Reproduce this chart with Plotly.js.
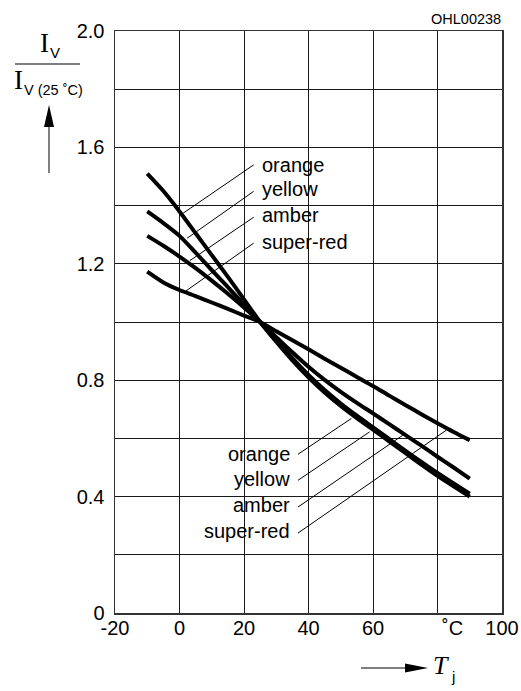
<!DOCTYPE html>
<html>
<head>
<meta charset="utf-8">
<script src="https://cdn.plot.ly/plotly-3.0.1.min.js"></script>
<style>html,body{margin:0;padding:0;background:#fff;}#chart{width:521px;height:691px;}</style>
</head>
<body>
<div id="chart"></div>
<script>
// Junction temperature (°C)
const temps = [-10, -5, 0, 5, 10, 15, 20, 25, 30, 35, 40, 45, 50, 55, 60, 65, 70, 75, 80, 85, 90];
// Relative luminous intensity Iv / Iv(25 °C)
const orange   = [1.51, 1.45, 1.38, 1.305, 1.23, 1.155, 1.078, 1.0, 0.932, 0.868, 0.81, 0.758, 0.712, 0.670, 0.630, 0.590, 0.550, 0.510, 0.471, 0.435, 0.40];
const yellow   = [1.38, 1.34, 1.296, 1.238, 1.178, 1.12, 1.06, 1.0, 0.938, 0.876, 0.818, 0.766, 0.720, 0.678, 0.638, 0.598, 0.558, 0.519, 0.481, 0.445, 0.41];
const amber    = [1.296, 1.262, 1.225, 1.185, 1.142, 1.097, 1.05, 1.0, 0.948, 0.896, 0.846, 0.801, 0.760, 0.722, 0.686, 0.649, 0.612, 0.575, 0.537, 0.50, 0.462];
const superRed = [1.173, 1.136, 1.110, 1.089, 1.067, 1.045, 1.022, 1.0, 0.968, 0.937, 0.906, 0.874, 0.843, 0.811, 0.78, 0.747, 0.715, 0.683, 0.652, 0.622, 0.594];

const seriesNames = ['orange', 'yellow', 'amber', 'super-red'];
const seriesValues = [orange, yellow, amber, superRed];

const xTickVals = [-20, 0, 20, 40, 60, 80, 100];
const xTickText = ['-20', '0', '20', '40', '60', '', '100'];
const yTickVals = [0, 0.2, 0.4, 0.6, 0.8, 1.0, 1.2, 1.4, 1.6, 1.8, 2.0];
const yTickText = ['0', '', '0.4', '', '0.8', '', '1.2', '', '1.6', '', '2.0'];

// label leader lines: [label x, label y, curve x, curve y] in data units
const topLeaders = [[23.0, 1.540, 1.15, 1.374], [23.0, 1.449, 2.38, 1.288], [23.0, 1.360, 3.22, 1.211], [23.0, 1.271, 1.67, 1.104]];
const bottomLeaders = [[36.75, 0.5456, 53.3, 0.6685], [36.75, 0.456, 58.95, 0.6224], [36.75, 0.3642, 69.26, 0.611], [36.75, 0.2747, 82.7, 0.628]];

const SANS = '"Liberation Sans", Arial, Helvetica, sans-serif';
const SERIF = '"Liberation Serif", "Times New Roman", serif';

// plot area in page pixels
const L = 115, R = 502, T0 = 31, B = 613;
const px = x => (x - L) / (R - L);
const py = y => (B - y) / (B - T0);

const traces = seriesValues.map((v, i) => ({
  x: temps, y: v, name: seriesNames[i], type: 'scatter', mode: 'lines',
  line: {color: '#000', width: 4, shape: 'spline', smoothing: 0.8},
  hoverinfo: 'skip'
}));

const shapes = [];
topLeaders.concat(bottomLeaders).forEach(l => {
  shapes.push({type: 'line', xref: 'x', yref: 'y', x0: l[0], y0: l[1], x1: l[2], y1: l[3], line: {color: '#000', width: 1}});
});
// fraction bar of y title
shapes.push({type: 'line', xref: 'paper', yref: 'paper', x0: px(15), x1: px(80), y0: py(64), y1: py(64), line: {color: '#000', width: 1}});
// y arrow
shapes.push({type: 'line', xref: 'paper', yref: 'paper', x0: px(49), x1: px(49), y0: py(173), y1: py(120), line: {color: '#000', width: 1}});
shapes.push({type: 'path', xref: 'paper', yref: 'paper',
  path: `M ${px(49)} ${py(105)} L ${px(44)} ${py(127)} L ${px(54)} ${py(127)} Z`, fillcolor: '#000', line: {color: '#000', width: 0}});
// x arrow
shapes.push({type: 'line', xref: 'paper', yref: 'paper', x0: px(361), x1: px(410), y0: py(668), y1: py(668), line: {color: '#000', width: 1}});
shapes.push({type: 'path', xref: 'paper', yref: 'paper',
  path: `M ${px(428)} ${py(668)} L ${px(405)} ${py(663.5)} L ${px(405)} ${py(672.5)} Z`, fillcolor: '#000', line: {color: '#000', width: 0}});

const annotations = [];
const topBase = [172.7, 197.3, 223.3, 250];
const botBase = [461.7, 487.3, 513.3, 539];
seriesNames.forEach((n, i) => {
  annotations.push({xref: 'paper', yref: 'paper', x: px(260), y: py(topBase[i] + 5), xanchor: 'left', yanchor: 'bottom',
    text: n, showarrow: false, font: {family: SANS, size: 20, color: '#000'}});
  annotations.push({xref: 'paper', yref: 'paper', x: px(292), y: py(botBase[i] + 5), xanchor: 'right', yanchor: 'bottom',
    text: n, showarrow: false, font: {family: SANS, size: 20, color: '#000'}});
});
// degree C in x ticks row
annotations.push({xref: 'paper', yref: 'paper', x: px(452), y: py(628), xanchor: 'center', yanchor: 'middle',
  text: '˚C', showarrow: false, font: {family: SANS, size: 20, color: '#000'}});
// code
annotations.push({xref: 'paper', yref: 'paper', x: px(503), y: py(19), xanchor: 'right', yanchor: 'middle',
  text: 'OHL00238', showarrow: false, font: {family: SANS, size: 14.5, color: '#000'}});
// y title
annotations.push({xref: 'paper', yref: 'paper', x: px(44), y: py(43), xanchor: 'center', yanchor: 'middle',
  text: 'I', showarrow: false, font: {family: SERIF, size: 27, color: '#000'}});
annotations.push({xref: 'paper', yref: 'paper', x: px(48), y: py(53), xanchor: 'left', yanchor: 'middle',
  text: 'V', showarrow: false, font: {family: SANS, size: 15, color: '#000'}});
annotations.push({xref: 'paper', yref: 'paper', x: px(18.5), y: py(80), xanchor: 'center', yanchor: 'middle',
  text: 'I', showarrow: false, font: {family: SERIF, size: 27, color: '#000'}});
annotations.push({xref: 'paper', yref: 'paper', x: px(22), y: py(90), xanchor: 'left', yanchor: 'middle',
  text: 'V (25 ˚C)', showarrow: false, font: {family: SANS, size: 14.5, color: '#000'}});
// x title
annotations.push({xref: 'paper', yref: 'paper', x: px(441), y: py(666), xanchor: 'center', yanchor: 'middle',
  text: '<i>T</i>', showarrow: false, font: {family: SERIF, size: 26, color: '#000'}});
annotations.push({xref: 'paper', yref: 'paper', x: px(449), y: py(676), xanchor: 'left', yanchor: 'middle',
  text: 'j', showarrow: false, font: {family: SANS, size: 15, color: '#000'}});

const layout = {
  width: 521, height: 691,
  margin: {l: L, r: 521 - R, t: T0, b: 691 - B, pad: 0},
  paper_bgcolor: '#fff', plot_bgcolor: '#fff',
  showlegend: false,
  font: {family: SANS, size: 20, color: '#000'},
  xaxis: {range: [-20, 100], tickmode: 'array', tickvals: xTickVals, ticktext: xTickText,
    showgrid: true, gridcolor: '#1a1a1a', gridwidth: 1, zeroline: false,
    showline: true, mirror: true, linecolor: '#333', linewidth: 1.5, ticks: '',
    ticklabelstandoff: -4,
    tickfont: {family: SANS, size: 20, color: '#000'}, fixedrange: true},
  yaxis: {range: [0, 2], tickmode: 'array', tickvals: yTickVals, ticktext: yTickText,
    showgrid: true, gridcolor: '#1a1a1a', gridwidth: 1, zeroline: false,
    showline: true, mirror: true, linecolor: '#333', linewidth: 1.5, ticks: '',
    ticklabelstandoff: 5,
    tickfont: {family: SANS, size: 20, color: '#000'}, fixedrange: true},
  shapes: shapes,
  annotations: annotations
};

Plotly.newPlot('chart', traces, layout, {displayModeBar: false, staticPlot: true});
</script>
</body>
</html>
